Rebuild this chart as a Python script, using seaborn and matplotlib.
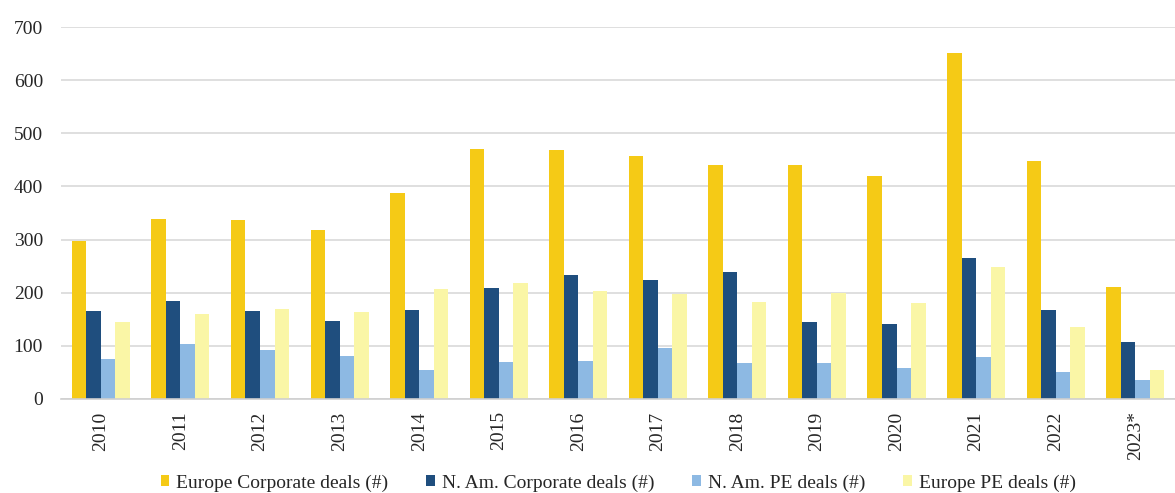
import matplotlib.pyplot as plt
import seaborn as sns
import pandas as pd

years = ['2010', '2011', '2012', '2013', '2014', '2015', '2016', '2017',
         '2018', '2019', '2020', '2021', '2022', '2023*']

eu_corp = [298, 338, 336, 318, 387, 470, 468, 458, 441, 440, 420, 651, 447, 211]
na_corp = [166, 184, 166, 147, 168, 209, 234, 224, 238, 145, 141, 265, 167, 107]
na_pe   = [75, 103, 92, 80, 54, 70, 71, 95, 68, 68, 58, 79, 51, 35]
eu_pe   = [145, 160, 169, 164, 207, 219, 203, 198, 182, 200, 180, 248, 135, 54]

series = ['Europe Corporate deals (#)', 'N. Am. Corporate deals (#)',
          'N. Am. PE deals (#)', 'Europe PE deals (#)']
colors = ['#F5CA16', '#1F4E7E', '#8DB9E3', '#FAF6A6']

df = pd.DataFrame({
    'year':   years * 4,
    'value':  eu_corp + na_corp + na_pe + eu_pe,
    'series': [s for s in series for _ in years],
})

sns.set_style('white')
plt.rcParams['font.family'] = ['Liberation Serif', 'DejaVu Serif']

fig = plt.figure(figsize=(11.75, 4.93), dpi=100)
ax = fig.add_axes([0.052, 0.191, 0.948, 0.754])

sns.barplot(data=df, x='year', y='value', hue='series', palette=colors,
            width=0.73, saturation=1, ax=ax, edgecolor='none')

ax.set_ylim(0, 700)
ax.set_yticks(range(0, 701, 100))
ax.set_xlim(-0.5, len(years) - 0.5)
ax.yaxis.grid(True, color='#d9d9d9', linewidth=1.2)
ax.set_axisbelow(True)
for s in ['top', 'right', 'left']:
    ax.spines[s].set_visible(False)
ax.spines['bottom'].set_color('#cfcfcf')
ax.spines['bottom'].set_linewidth(1.2)

ax.tick_params(axis='y', length=0, pad=13, labelsize=14)
ax.tick_params(axis='x', length=0, pad=9, labelsize=14, rotation=90)
ax.set_xlabel('')
ax.set_ylabel('')

ax.legend(loc='center', bbox_to_anchor=(0.5, -0.226), ncol=4, frameon=False,
          fontsize=14, handlelength=0.45, handleheight=0.45, handletextpad=0.35,
          columnspacing=1.95, borderpad=0)

plt.savefig('out.png', dpi=100)
